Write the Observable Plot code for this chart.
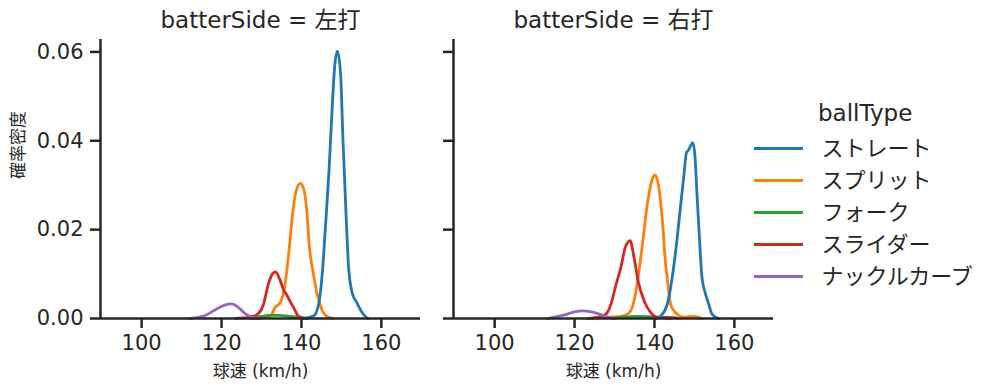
<!DOCTYPE html>
<html><head><meta charset="utf-8">
<script src="https://cdn.jsdelivr.net/npm/d3@7"></script>
<script src="https://cdn.jsdelivr.net/npm/@observablehq/plot@0.6"></script>
<style>
body{margin:0;background:#fff;}
#root{position:relative;width:999px;height:391px;font-family:"DejaVu Sans","Noto Sans CJK JP",sans-serif;color:#262626;overflow:hidden}
#root svg{position:absolute;top:0;overflow:visible}
#legtitle{position:absolute;left:818px;top:101px;font-size:23px;line-height:24px;}
</style></head><body><div id="root"></div>
<script>
const ballTypes = ["ストレート","スプリット","フォーク","スライダー","ナックルカーブ"];
const colors = ["#1f77b4","#ff7f0e","#2ca02c","#d62728","#9467bd"];
const xTicks = [100,120,140,160];
const yTicks = [0,0.02,0.04,0.06];
const xDomain = [89.7, 169.8];
const yDomain = [0, 0.0628];
const panelTitles = ["batterSide = 左打","batterSide = 右打"];
const xLabel = "球速 (km/h)";
const yLabel = "確率密度";
const legendTitle = "ballType";

// [speed, density] — left panel (左打)
const leftStraight = [[140.5,0],[143.1,0.0006],[144.3,0.0032],[145.2,0.010],[146.0,0.0205],[146.85,0.0325],[147.7,0.0475],[148.3,0.0565],[149.0,0.0602],[149.8,0.055],[150.4,0.040],[151.2,0.0227],[151.8,0.0115],[152.7,0.0058],[153.9,0.0035],[155.2,0.0013],[156.6,0]];
const leftSplit = [[127.6,0],[132.2,0.0005],[133.4,0.0025],[134.7,0.0036],[135.9,0.0077],[136.8,0.0145],[137.6,0.022],[138.5,0.028],[139.7,0.0304],[140.7,0.0287],[141.4,0.0235],[141.9,0.017],[142.5,0.0125],[143.1,0.0095],[143.8,0.006],[144.4,0.004],[145.2,0.0018],[146.2,0.0006],[148.0,0]];
const leftFork = [[127,0],[129.5,0.0004],[132,0.0007],[134.5,0.0007],[137,0.0005],[139.5,0.0002],[141.5,0]];
const leftSlider = [[123.5,0],[127,0.0003],[128.8,0.0008],[130.5,0.0032],[131.7,0.0077],[132.7,0.0100],[133.5,0.0105],[134.5,0.0090],[135.5,0.0065],[136.4,0.0052],[137.2,0.0038],[138.0,0.0025],[139.3,0.0005],[141,0]];
const leftKnuckle = [[112,0],[116.2,0.0008],[118.7,0.0021],[120.8,0.003],[122.5,0.0033],[124.2,0.0025],[125.9,0.0011],[127.6,0.0003],[129.6,0]];

// right panel (右打)
const rightStraight = [[140.5,0],[141.6,0.0006],[143.2,0.0032],[144.05,0.007],[144.9,0.0122],[145.7,0.0182],[146.5,0.025],[147.4,0.0325],[148.0,0.0373],[148.6,0.038],[149.0,0.0388],[149.6,0.0396],[150.1,0.037],[150.7,0.0272],[151.3,0.0175],[151.9,0.0092],[152.8,0.0055],[153.6,0.0032],[154.4,0.001],[156.1,0]];
const rightSplit = [[124.2,0],[128.3,0.0003],[131.6,0.0005],[133.7,0.0013],[134.9,0.004],[135.9,0.0092],[137.0,0.0167],[138.1,0.025],[139.1,0.0302],[140.1,0.0323],[141.1,0.0295],[142.0,0.022],[142.8,0.0122],[143.2,0.0092],[144.05,0.0032],[145.3,0.0013],[147.4,0.0003],[149.9,0.0005],[151.9,0]];
const rightFork = [[130,0],[133,0.0004],[136,0.0005],[139,0.0004],[142,0.0002],[144,0]];
const rightSlider = [[123.3,0],[126.6,0.0005],[127.9,0.001],[129.1,0.0032],[130.4,0.0077],[131.6,0.0115],[132.7,0.016],[133.9,0.0175],[134.9,0.0137],[135.9,0.0085],[137.4,0.004],[139.1,0.0013],[140.7,0.0003],[144.9,0.0002],[146,0]];
const rightKnuckle = [[113.4,0],[117.5,0.0008],[120.0,0.0015],[122.1,0.0017],[124.2,0.0015],[126.2,0.001],[128.3,0.0003],[129.9,0]];

const leftCurves = [leftStraight, leftSplit, leftFork, leftSlider, leftKnuckle];
const rightCurves = [rightStraight, rightSplit, rightFork, rightSlider, rightKnuckle];

function toRows(curves){
  const rows = [];
  curves.forEach((c,i)=>c.forEach(([s,d])=>rows.push({type: ballTypes[i], speed: s, density: d})));
  return rows;
}

const FONT = '"DejaVu Sans", "Noto Sans CJK JP", sans-serif';
const INK = "#262626";

function panel(curves, title, showYLabels){
  const rows = toRows(curves);
  const marks = [
    Plot.line(rows.filter(r=>r.type!=="ストレート").concat(rows.filter(r=>r.type==="ストレート")), {x:"speed", y:"density", z:"type", stroke:"type", strokeWidth:2.8, curve:"monotone-x"}),
    Plot.ruleX([xDomain[0]], {stroke: INK, strokeWidth: 2.5}),
    Plot.ruleY([yDomain[0]], {stroke: INK, strokeWidth: 2.5}),
    Plot.axisX({ticks: xTicks, tickSize: 10, tickPadding: 7, fontSize: 21, strokeWidth: 2.5, stroke: INK, fill: INK, label: null}),
    Plot.axisY({ticks: yTicks, tickSize: 10, tickPadding: 7, fontSize: 21, strokeWidth: 2.5, stroke: INK, fill: INK, label: null,
      tickFormat: showYLabels ? d3.format(".2f") : () => ""}),
    Plot.text([title], {text: d=>d, frameAnchor: "top", lineAnchor: "middle", dy: -19, fontSize: 23, fill: INK}),
    Plot.text([xLabel], {text: d=>d, frameAnchor: "bottom", lineAnchor: "middle", dy: 53, fontSize: 17, fill: INK})
  ];
  if (showYLabels) marks.push(Plot.text([yLabel], {text: d=>d, frameAnchor: "left", lineAnchor: "middle", dx: -82, rotate: -90, fontSize: 17, fill: INK}));
  return marks;
}

const common = {
  height: 391,
  marginTop: 39,
  marginBottom: 73,
  x: {domain: xDomain},
  y: {domain: yDomain},
  color: {domain: ballTypes, range: colors},
  style: {fontFamily: FONT, background: "transparent", color: INK}
};

const root = document.getElementById("root");

const p1 = Plot.plot({...common, width: 430, marginLeft: 100, marginRight: 10, marks: panel(leftCurves, panelTitles[0], true)});
p1.style.left = "0px";
root.appendChild(p1);

const p2 = Plot.plot({...common, width: 340, marginLeft: 10, marginRight: 10, marks: panel(rightCurves, panelTitles[1], false)});
p2.style.left = "443px";
root.appendChild(p2);

const leg = Plot.plot({
  width: 259, height: 391, marginLeft: 14, marginRight: 196, marginTop: 146, marginBottom: 114,
  y: {type: "point", domain: ballTypes, padding: 0, axis: null},
  color: {domain: ballTypes, range: colors},
  style: {fontFamily: FONT, background: "transparent", color: INK},
  marks: [
    Plot.tickY(ballTypes, {y: d=>d, stroke: d=>d, strokeWidth: 3}),
    Plot.text(ballTypes, {y: d=>d, text: d=>d, frameAnchor: "right", dx: 18, textAnchor: "start", fontSize: 22, fill: INK})
  ]
});
leg.style.left = "740px";
root.appendChild(leg);

const lt = document.createElement("div");
lt.id = "legtitle";
lt.textContent = legendTitle;
root.appendChild(lt);
</script></body></html>
